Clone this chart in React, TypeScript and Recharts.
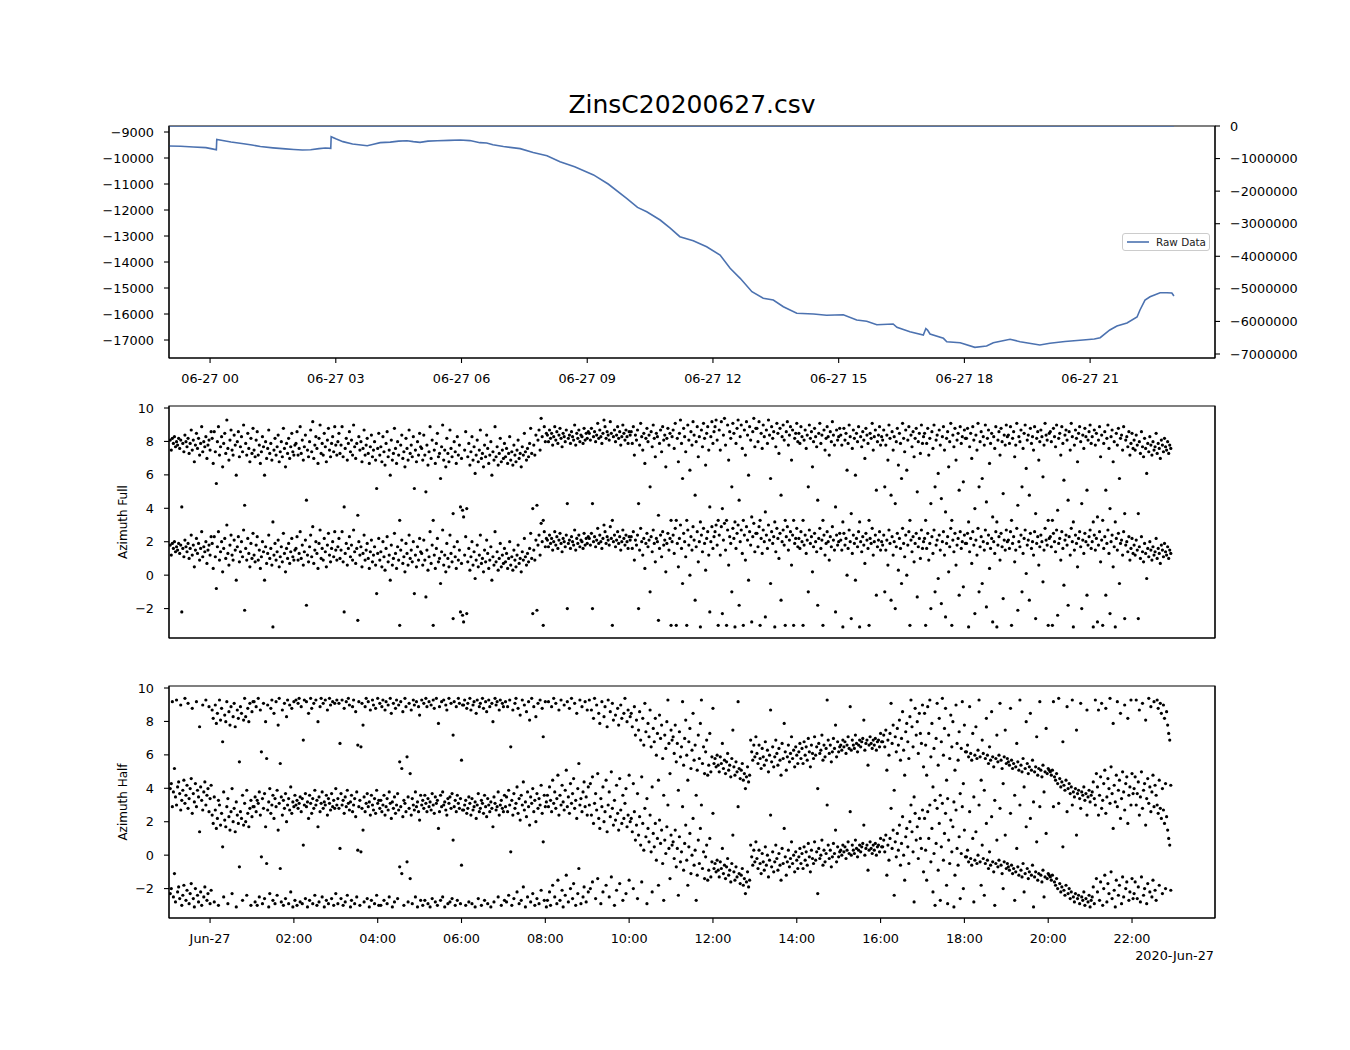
import React from 'react';
import { LineChart, Line, ScatterChart, Scatter, XAxis, YAxis, Legend, ReferenceArea } from 'recharts';

const FONT = '"DejaVu Sans", sans-serif';
const BLUE = '#4C72B0';

// ---------- Top panel: raw data (left axis) and second series (right axis) ----------
const rawHours = [-0.98, -0.7, -0.4, -0.1, 0.05, 0.15, 0.16, 0.3, 0.5, 0.8, 1.0, 1.2, 1.5, 1.8, 2.0, 2.2, 2.4, 2.6, 2.75, 2.88, 2.89, 3.0, 3.17, 3.4, 3.6, 3.75, 3.9, 4.06, 4.3, 4.5, 4.7, 4.85, 5.01, 5.2, 5.42, 5.7, 5.97, 6.2, 6.44, 6.6, 6.75, 7.0, 7.4, 7.71, 8.04, 8.35, 8.7, 9.15, 9.5, 9.94, 10.2, 10.42, 10.74, 10.98, 11.21, 11.53, 11.85, 12.17, 12.41, 12.65, 12.93, 13.2, 13.44, 13.68, 14.0, 14.4, 14.71, 15.11, 15.43, 15.67, 15.91, 16.3, 16.39, 16.7, 17.02, 17.08, 17.12, 17.18, 17.5, 17.58, 17.9, 18.25, 18.53, 18.69, 19.09, 19.33, 19.8, 20.04, 20.4, 20.83, 21.1, 21.24, 21.47, 21.64, 21.88, 22.12, 22.19, 22.31, 22.43, 22.67, 22.83, 22.95, 23.0];
const rawValues = [-9540, -9550, -9575, -9600, -9650, -9680, -9290, -9330, -9385, -9450, -9500, -9560, -9610, -9650, -9670, -9690, -9680, -9640, -9615, -9630, -9180, -9260, -9370, -9460, -9500, -9530, -9470, -9410, -9390, -9350, -9335, -9370, -9400, -9350, -9335, -9320, -9308, -9330, -9410, -9420, -9490, -9560, -9640, -9790, -9910, -10140, -10340, -10650, -11000, -11550, -11900, -12065, -12385, -12700, -13027, -13181, -13412, -13731, -14242, -14627, -15142, -15396, -15462, -15719, -15973, -16000, -16050, -16027, -16231, -16281, -16412, -16385, -16512, -16681, -16808, -16560, -16620, -16770, -16935, -17065, -17104, -17281, -17231, -17104, -16973, -17065, -17190, -17127, -17060, -17000, -16960, -16912, -16615, -16462, -16346, -16115, -15846, -15462, -15335, -15181, -15181, -15192, -15308];
const rightHours = [-0.98, 23.0];
const rightValues = [0, 0];

const topTickHours = [0, 3, 6, 9, 12, 15, 18, 21];
const topTickLabels = ['06-27 00', '06-27 03', '06-27 06', '06-27 09', '06-27 12', '06-27 15', '06-27 18', '06-27 21'];
const leftTicks = [-17000, -16000, -15000, -14000, -13000, -12000, -11000, -10000, -9000];
const rightTicks = [-7000000, -6000000, -5000000, -4000000, -3000000, -2000000, -1000000, 0];

const bottomTickHours = [0, 2, 4, 6, 8, 10, 12, 14, 16, 18, 20, 22];
const bottomTickLabels = ['Jun-27', '02:00', '04:00', '06:00', '08:00', '10:00', '12:00', '14:00', '16:00', '18:00', '20:00', '22:00'];
const azimuthTicks = [-2, 0, 2, 4, 6, 8, 10];
const dateOffsetLabel = '2020-Jun-27';

// ---------- Azimuth samples (radians, -pi..pi); one value every 1.5 minutes ----------
const sampleStartHour = -0.95;
const sampleStepHours = 0.025;

const azimuthFull = [
  1.8, 1.2, 1.9, 1.6, 2.0, 1.4, 1.7, 1.5, 1.9, 1.3, 1.8, -2.2, 1.6, 1.1, 2.1, 1.7, 1.4, 1.9, 1.0, 1.6, 2.4, 1.2, 1.8, 0.5, 1.5, 2.2, 1.3, 1.9, 0.9, 1.6, 2.6, 1.1, 1.7, 1.4, 2.0, 0.7, 1.5, 1.8, 1.2, 2.3,
  1.9, 0.4, 2.3, 1.1, -0.8, 1.7, 2.6, 0.9, 1.4, 2.0, 0.2, 1.6, 2.2, 1.0, 3.0, 1.3, 0.6, 1.8, 2.4, 1.2, 0.9, 2.1, 1.5, -0.3, 1.7, 2.3, 0.8, 1.4, 2.0, 1.1, 2.7, -2.1, 1.6, 0.9, 2.2, 1.3, 0.5, 1.9, 1.0, 2.5,
  1.2, 0.8, 1.8, 2.3, 0.9, 1.5, 0.4, 1.1, 2.0, 1.4, -0.3, 1.7, 0.7, 1.3, 2.4, 1.0, 1.6, 0.6, -3.1, 1.2, 1.9, 0.9, 1.4, 2.1, 0.5, 1.1, 1.7, 0.8, 2.5, 1.3, 0.2, 1.6, 1.0, 1.9, 0.7, 1.4, 2.2, 1.1, 0.9, 1.5,
  1.6, 2.3, 0.9, 1.3, 2.6, 1.0, 1.8, 0.6, 1.4, 2.1, -1.8, 1.2, 0.8, 1.7, 2.4, 1.1, 2.9, 0.7, 1.5, 2.0, 1.3, 0.4, 1.9, 2.7, 1.0, 1.6, 0.9, 2.2, 1.4, 0.5, 1.8, 2.5, 1.2, 0.8, 1.6, 2.0, 1.1, 2.6, 1.5, 0.9,
  1.7, 2.2, 1.0, 1.5, 2.6, 0.8, -2.2, 1.3, 1.9, 0.6, 1.6, 2.3, 1.1, 1.8, 0.9, 2.7, 1.4, 0.7, 1.6, -2.7, 2.0, 1.2, 1.7, 0.5, 1.3, 2.4, 0.9, 1.5, 1.9, 1.0, 0.4, 1.4, 2.1, 0.8, 1.2, 1.7, 0.6, -1.1, 1.3, 2.2,
  0.9, 1.4, 0.5, 2.0, 1.1, 0.3, 1.6, 2.3, 0.8, 1.2, -0.3, 1.8, 0.6, 1.0, 2.5, 1.3, 0.4, 1.7, 0.9, -3.0, 1.5, 2.1, 0.7, 1.1, 0.2, 1.9, 1.3, 0.6, 2.4, 1.0, 1.5, 0.8, 2.0, -1.1, 1.2, 0.5, 1.7, 0.9, 2.2, 1.4,
  1.3, 0.6, 2.1, 0.9, -1.3, 1.5, 0.3, 1.1, 2.6, 0.7, 1.8, -3.0, 1.2, 0.4, 1.6, 2.2, 0.8, 1.0, -0.5, 1.4, 2.7, 0.6, 1.2, 0.2, 1.9, 1.0, 0.5, 2.4, 1.3, 0.8, -2.6, 1.7, 1.1, 0.4, 2.0, 0.9, 1.5, -2.2, 0.7, -2.4,
  -2.8, 1.2, 2.3, -2.3, 0.8, 1.6, 0.3, 1.1, 2.0, 0.6, 1.4, -0.2, 0.9, 1.8, 0.5, 1.2, 2.4, 0.7, 1.0, 0.2, 1.5, 0.8, 2.1, 1.3, 0.4, 0.9, 1.7, -0.3, 1.1, 0.6, 2.6, 0.8, 1.4, 0.3, 1.0, 1.9, 0.5, 1.2, 0.7, 1.6,
  0.8, 1.3, 0.4, 1.0, 2.0, 0.6, 1.1, 0.3, 1.5, 0.9, 0.5, 1.2, 1.8, 0.7, 1.0, 0.2, 1.4, 0.9, 2.2, 1.1, 0.6, 1.3, 0.8, 1.6, 2.5, 1.0, -2.3, 1.5, 0.9, 2.1, -2.1, 1.8, 2.4, 1.2, 3.1, 2.0, -3.0, 2.6, 1.7, 2.2,
  2.1, 1.7, 2.4, 1.9, 2.2, 1.5, 2.0, 2.6, 1.8, 2.3, 1.6, 2.1, 2.5, 1.9, 1.4, 2.2, 2.0, 1.7, 2.4, -2.0, 1.9, 2.1, 1.6, 2.3, 2.0, 1.8, 2.7, 1.5, 2.2, 1.9, 2.4, 1.7, 2.1, 2.0, 1.6, 2.5, 1.8, 2.2, 1.9, 2.3,
  2.2, 1.8, 2.5, -2.0, 2.0, 2.3, 1.7, 2.1, 2.8, 1.9, 2.4, 2.0, 1.6, 2.2, 3.0, 2.6, 1.9, 2.3, 2.1, 1.8, 2.9, 2.2, -3.0, 2.0, 2.4, 1.7, 2.1, 2.6, 1.9, 2.3, 1.5, 2.0, 2.7, 2.2, 1.8, 2.4, 2.0, 1.6, 2.3, 2.1,
  2.3, 1.6, 2.6, 0.9, 2.1, 1.8, 2.4, -2.0, 1.5, 2.8, 2.0, 1.2, 2.2, 0.4, 1.9, 2.5, 1.7, 2.1, -1.0, 2.3, 1.4, 2.7, 1.9, 0.8, 2.2, 2.0, -2.7, 1.6, 2.4, 1.1, 2.6, 1.8, 2.1, 0.2, 1.9, 2.5, 1.5, 2.2, -3.0, 2.0,
  2.4, 1.3, 2.8, -3.0, 1.9, 0.5, 2.2, 3.0, 1.6, -0.5, 2.5, 2.0, 1.1, -3.0, 2.7, 1.8, 0.0, 2.3, 1.5, 2.9, 2.1, -1.5, 1.7, 2.6, 0.8, 2.0, -3.1, 2.4, 1.4, 2.8, 1.9, 0.3, 2.2, 2.6, 1.2, -2.2, 2.0, 2.9, 1.6, 2.3,
  2.6, 3.0, 1.8, -3.0, 2.4, 1.2, 2.9, -2.3, 2.1, 3.1, 1.5, -3.0, 2.7, 0.6, 2.3, 1.9, -1.0, 2.8, 2.2, -3.1, 1.6, 2.5, 3.0, -1.8, 2.0, 2.7, 1.3, -3.0, 2.4, 0.9, 2.9, 2.1, -0.3, 2.6, 1.8, -2.8, 2.3, 3.1, 1.4, 2.5,
  2.5, 1.7, 2.9, -3.0, 2.2, 1.3, 2.7, 2.0, -2.5, 2.4, 1.6, 3.0, 2.1, -0.5, 2.6, 1.9, 2.3, -3.1, 1.4, 2.8, 2.2, 1.0, 2.5, -1.5, 2.0, 2.7, 1.8, -3.0, 2.3, 2.9, 1.5, 2.1, 2.6, 0.6, 2.4, -3.0, 1.9, 2.2, 2.8, 1.7,
  2.2, 1.6, 2.6, 2.0, -3.0, 1.8, 2.4, 1.3, 2.1, -1.0, 2.7, 1.9, 2.3, 0.2, 1.7, 2.5, 2.0, 1.4, -1.8, 2.2, 2.8, 1.6, 2.1, -3.0, 2.4, 1.2, 1.9, 2.6, 2.0, 0.9, 2.3, 1.7, 2.9, 2.1, 1.5, -2.2, 2.4, 1.8, 2.0, 2.5,
  2.1, 1.5, -3.1, 2.5, 1.8, 2.2, 0.0, 1.6, 2.7, 2.0, -2.6, 1.3, 2.4, 1.9, -0.3, 2.2, 1.7, 2.6, -3.1, 2.0, 1.4, 2.3, 1.8, 0.7, 2.5, 2.1, 1.6, -3.0, 2.2, 1.9, 2.8, 1.2, 2.0, 2.4, -1.2, 1.7, 2.1, 2.6, 1.5, 2.0,
  1.8, 2.4, -1.0, 1.5, 2.1, 0.6, 2.7, 1.9, -1.5, 2.3, 1.2, 2.0, -2.0, 1.7, 2.5, 0.3, 2.2, 1.6, -0.5, 2.8, 1.9, 1.1, 2.4, 0.0, 1.8, 2.6, -3.0, 2.1, 1.4, 2.3, 0.8, 1.9, 2.5, -1.3, 1.7, 2.2, 1.0, 2.7, 1.6, 2.0,
  2.2, -3.0, 1.6, 2.5, 0.9, 1.9, -2.0, 2.3, 1.3, 2.7, -1.0, 1.8, 2.1, -0.2, 2.4, 1.5, -1.7, 2.0, 2.6, 1.2, -2.5, 1.9, 2.3, 0.2, 1.7, 2.8, -3.0, 2.1, 1.4, 2.5, 0.6, 1.8, 2.2, -1.2, 2.6, 1.6, 2.0, -0.7, 2.4, 1.9,
  1.9, 2.5, -3.1, 1.4, 2.2, 0.7, 2.6, 1.8, -2.3, 2.1, 1.2, 2.8, -1.0, 1.7, 2.3, -0.5, 2.0, 1.5, 2.7, -1.9, 1.9, 2.4, 0.4, 1.6, 2.2, -2.8, 2.0, 1.3, 2.6, -3.1, 1.8, 2.3, 0.9, 2.5, 1.7, -1.4, 2.1, 1.5, 2.7, 2.0,
  2.1, 1.6, 2.6, -3.0, 1.9, 2.3, 0.8, 1.5, 2.8, -2.1, 2.0, 1.7, 2.4, -1.0, 1.3, 2.2, 2.7, 0.1, 1.8, 2.1, -1.5, 2.5, 1.6, 2.0, 1.2, 2.6, -2.6, 1.9, 2.3, 0.6, 1.7, 2.4, 2.0, -0.4, 1.5, 2.8, 2.1, 1.8, -3.0, 2.2,
  2.3, 1.7, -3.0, 2.5, 2.0, 1.4, 2.7, -2.4, 1.9, 2.2, 0.9, 2.6, 1.6, -0.6, 2.1, 2.4, 1.8, -1.8, 2.3, 1.2, 2.8, 2.0, -3.1, 1.5, 2.4, 1.9, 0.5, 2.2, 2.6, 1.7, -2.0, 2.1, 1.3, 2.5, 2.0, -1.2, 1.8, 2.3, 2.7, 1.6,
  2.0, -3.1, 2.4, 1.5, 2.2, -2.8, 1.8, 2.6, 0.8, 2.1, -3.0, 1.6, 2.3, -1.2, 1.9, 2.7, 1.3, -2.3, 2.0, 2.4, 0.5, 1.7, -3.1, 2.2, 1.5, 2.5, -0.5, 1.9, 2.1, 1.2, 2.6, -2.6, 1.8, 2.0, 1.4, 2.3, 0.9, 1.6, 2.2, 1.3,
  1.8, 1.2, 2.1, 1.5, -2.6, 1.7, 1.0, 2.3, 1.4, 0.8, 1.9, 1.3, -0.2, 1.6, 1.1, 2.0, 1.5, 0.9, 1.7, 1.2, 1.4, 2.2, 1.0, 1.6, 1.3, 0.7, 1.8, 1.5, 1.1, 1.9, 1.4, 1.2, 1.7, 1.0, 1.5, 1.3,
];

const azimuthHalf = [
  -2.3, -2.0, 2.9, -2.5, -1.1, -2.8, 3.0, -2.2, -1.9, -2.6, 2.7, -3.0, -2.4, -1.8, 3.1, -2.7, -2.1, 2.8, -2.9, -2.3, -1.7, 2.5, -2.6, -3.1, -2.0, 2.9, -2.4, -2.8, 1.4, -2.2, -3.0, 2.7, -2.5, -1.9, 3.0, -2.7, -2.3, 2.6, -2.9, -2.1,
  2.4, 1.9, -2.8, 2.7, 1.6, 2.2, -3.0, 3.0, 1.8, 2.5, 0.5, -2.5, 2.1, 1.7, 2.9, -2.9, 2.3, 1.5, 2.6, -2.3, 2.0, 2.8, 1.4, -3.1, 2.4, 1.9, -0.7, 2.6, 2.2, -2.7, 1.8, 3.1, 2.0, -2.4, 2.5, 1.7, 2.8, -3.0, 2.3, 2.9,
  2.9, -2.8, 2.6, -3.0, 3.1, -2.5, 2.4, -0.1, -2.9, 2.8, -2.6, 1.7, -0.5, 2.7, -3.1, -2.3, 2.5, 3.0, -2.7, 2.2, -2.9, 2.9, -2.4, 1.5, 3.1, -0.8, -2.8, 2.4, -3.0, 2.8, -2.6, 2.0, 3.0, -2.9, 2.7, -2.2, 2.5, -3.1, 2.9, -2.7,
  3.0, -3.0, 2.8, 3.1, -2.8, 2.6, -2.9, 0.6, 3.0, -2.6, 2.9, -3.1, 2.2, -2.7, 3.1, 2.5, -2.9, 2.8, -2.4, 3.0, -3.0, 1.7, -2.8, 2.6, 3.1, -2.5, 2.8, -3.1, 3.0, -2.7, 2.4, -2.9, 3.1, 2.7, -2.6, 2.9, -3.0, 2.8, -2.3, 3.0,
  -2.9, 2.8, 0.4, -2.6, 3.0, -3.0, 2.5, -2.8, 2.9, -2.4, 3.1, 2.7, -3.1, -2.7, 2.6, 3.0, -2.9, 2.3, -2.5, 0.3, 2.9, -3.0, 0.2, 2.8, 1.5, -2.8, 2.6, 3.1, -2.6, 2.9, -3.1, 2.4, -2.7, 3.0, 2.7, -2.9, 2.5, -2.4, 3.1, -3.0,
  2.8, -3.0, 2.6, 3.0, -2.7, 2.4, 2.9, -2.9, 2.7, -2.5, 3.1, 2.2, -3.1, 2.8, -2.8, 2.5, 3.0, -2.6, 2.7, -0.7, 2.9, -1.1, 2.3, -3.0, 3.1, 2.6, -0.4, -2.8, 2.8, -1.4, 2.4, -2.9, 3.0, 2.7, -2.5, 2.9, -3.1, 2.6, 2.1, -2.7,
  3.0, -3.0, 2.8, -2.7, 3.1, 2.6, -2.9, 2.9, -3.1, 2.7, -2.6, 3.0, 2.5, -2.8, 3.1, -3.0, 1.6, 2.6, -2.7, 2.9, -2.5, 3.0, -3.1, 2.7, 2.4, -2.9, 3.1, -2.8, 2.8, -2.6, 0.9, 2.9, -3.0, 2.6, -2.7, 3.1, 2.8, -2.9, -0.6, 2.7,
  2.7, 3.0, -3.0, 2.5, 2.8, -2.8, 3.1, 2.4, -2.9, 2.7, 2.9, -3.1, 2.2, 3.0, -2.6, 2.6, 2.8, -3.0, 3.1, 2.5, -2.7, 2.9, 2.3, -2.9, 3.0, 2.6, -3.1, 2.8, 1.7, -2.8, 3.1, 2.7, 2.9, -2.5, 2.4, 3.0, -3.0, 2.8, 2.6, -2.7,
  2.9, -2.8, 2.6, -2.4, 3.0, 0.2, -3.0, 2.4, -2.6, 2.8, 3.1, -2.2, 2.5, -2.9, 2.1, -2.7, 3.0, -1.9, 2.7, -3.1, 2.3, -2.5, 2.9, 1.8, -2.8, 3.1, -2.3, 2.6, -3.0, 2.0, -2.6, 2.8, -2.9, 3.0, -2.1, 2.5, 0.8, -2.7, 2.9, -3.1,
  -2.7, 2.9, -2.2, -3.0, 2.6, -1.8, 3.1, -2.5, 2.8, -2.9, -1.5, 2.4, -2.7, 3.0, -2.1, -3.1, 2.7, -2.4, -1.2, 2.9, -2.8, 2.5, -2.0, 3.1, -2.6, -1.7, 2.8, -3.0, 2.2, -2.3, -0.8, 3.0, -2.9, 2.6, -2.5, -1.9, 2.9, -2.8, 2.4, -2.2,
  3.0, -2.0, 2.4, -1.6, 1.9, 3.1, -2.6, 2.7, -1.4, 2.2, 1.6, -2.9, 2.9, -2.2, 2.0, 2.6, -1.8, 1.4, 3.0, -2.5, 2.3, -1.3, 2.8, 1.8, -3.0, 2.1, -2.1, 2.5, 1.5, -1.7, 2.7, 1.9, -2.7, 2.2, 3.1, -2.3, 1.7, 2.4, -1.5, 2.0,
  2.2, 1.4, -2.0, 2.6, 0.9, 1.8, -2.6, 1.2, 2.3, 0.6, -1.6, 1.9, 0.3, 2.8, 1.1, -2.9, 1.6, 0.8, 2.4, 0.2, -2.2, 1.3, 0.5, 1.9, -0.3, 1.0, -1.8, 2.1, 0.7, 1.5, -0.5, -2.7, 0.9, 0.1, 1.7, 3.0, 0.4, -1.4, 1.2, 0.6,
  0.8, -0.2, 1.5, -0.7, 0.4, -2.4, 1.1, -0.4, 0.2, 2.9, -0.9, 0.7, 1.8, -0.3, -1.8, 0.5, 1.3, -1.1, 0.0, 2.2, -0.6, 0.3, -2.7, -1.2, 0.9, -0.5, 1.6, 3.0, -0.8, 0.2, -1.4, -0.1, 0.6, -1.5, -0.9, 1.0, -1.3, -0.4, 2.5, -0.8,
  -0.5, -1.0, -0.3, -0.9, -1.3, -0.4, -0.8, 0.4, -1.1, -0.6, -1.4, -0.7, -0.2, -1.2, -0.9, -1.6, -0.5, 1.2, -1.0, -1.5, -0.7, -1.3, 2.9, -1.1, -1.7, -1.2, -0.8, -1.8, -1.4, -2.3, -1.6, -1.0, -1.9, -1.5, 0.6, -0.1, -0.6, 0.3, -0.4, 0.8,
  -0.2, -0.8, 0.3, -0.5, -1.1, 0.1, -0.4, -0.9, 0.5, -0.6, 0.0, -1.3, -0.3, 2.4, -0.7, 0.2, -1.0, -0.4, 0.6, -0.2, -0.9, 0.1, -0.6, -1.5, 0.4, -0.5, 1.6, -0.1, -1.2, -0.4, 0.3, -0.7, -0.2, 0.8, -0.5, 0.0, -1.0, 0.2, -0.3, -0.8,
  -0.1, 0.4, -0.5, 0.1, -0.8, 0.5, -0.3, 0.2, -0.6, 0.7, -0.1, -1.0, 0.3, -0.2, -0.5, 0.8, -0.3, 0.2, -2.3, 0.4, -0.2, 0.0, 0.9, -0.6, 0.3, -0.4, 0.1, 3.0, 0.6, -0.2, 0.3, -0.7, -0.1, 0.7, 0.1, 1.5, -0.4, 0.5, -0.1, 0.2,
  0.3, 0.0, 0.6, 0.2, 0.5, -0.2, 0.3, 0.8, 0.1, 2.6, 0.0, 0.6, 0.3, 0.1, 0.9, 0.4, -0.1, 0.3, 0.6, 0.2, 0.5, 0.7, 1.8, 0.0, 0.4, 0.6, -0.9, 0.3, 0.8, 0.4, 0.1, 0.6, 0.3, 0.7, 0.0, 0.5, 0.6, 0.2, 1.0, 0.5,
  0.5, 0.9, 0.2, 1.2, -1.2, 0.6, -0.3, 1.0, 2.8, 0.4, 1.5, -2.4, 0.8, -0.1, 1.3, 0.3, 1.8, -0.6, 0.7, 2.3, 0.0, -1.5, 1.1, 1.6, 0.5, -0.5, 2.0, 3.0, 1.4, 0.2, -2.8, 2.5, 0.9, 1.7, -0.2, 2.2, 1.0, 0.4, 2.7, -1.0,
  2.2, 0.3, -1.5, 2.6, 1.0, 3.0, -0.4, 1.6, -2.2, 0.1, -3.0, 0.7, 2.8, -0.9, 1.9, -2.7, 0.5, 3.1, -0.3, 1.3, 2.5, -1.8, -2.9, 0.9, -0.5, 2.1, 0.2, 1.7, -3.1, -1.2, 2.7, 0.4, -0.6, 1.1, -2.6, 0.1, 2.9, -2.0, 1.5, -0.1,
  -0.1, 0.3, -0.4, 2.6, -0.2, -0.6, 1.0, -2.8, -0.3, 1.4, -0.5, 0.0, 3.0, -0.4, -1.8, 0.6, -0.2, -2.4, -0.5, 1.9, -0.3, -0.8, 0.2, -0.6, 2.3, -0.4, -1.0, -3.0, -0.5, 0.9, -0.7, -0.3, 2.8, -0.6, -1.1, -2.0, -0.4, 1.2, -0.8, -0.5,
  -0.7, -0.9, 2.5, -0.6, -1.1, -0.8, -2.7, -1.0, 0.4, -0.7, -1.2, 3.0, -0.9, -1.3, -0.5, -2.2, -1.1, 1.7, -0.8, -1.4, -1.0, 2.2, -1.2, -0.6, -3.1, -1.3, -1.0, 0.8, -1.5, -1.1, 2.9, -1.2, -1.6, -0.9, -2.5, -1.3, 1.3, -1.4, -1.1, -1.2,
  -1.3, -1.5, -1.2, 2.9, -1.6, -1.8, -1.4, -2.0, 3.1, -1.7, -2.2, -1.9, 0.5, -2.1, -2.4, -1.8, 2.6, -2.3, -2.0, -2.6, -2.2, 3.0, -2.5, -2.8, -2.3, 1.2, -2.6, -2.4, -2.9, 2.8, -2.5, -2.7, -2.2, -3.0, -2.6, 2.4, -2.8, -2.4, -3.1, -2.7,
  -2.5, -1.9, -2.9, 3.0, -1.4, -2.2, 2.4, -2.7, -1.6, 2.8, -3.0, -2.0, -1.2, 2.5, -2.8, -1.7, -2.3, 3.1, -1.0, -2.6, 1.6, -2.1, -3.1, -1.5, 2.9, -2.4, -1.8, 2.2, -2.9, -1.3, -2.5, 2.7, -2.0, -1.6, 1.9, -2.7, -2.2, 3.0, -1.4, -2.6,
  -2.3, -1.6, 3.0, -2.6, -1.9, 2.4, -2.8, -1.3, 2.8, -2.4, -2.0, 1.8, -2.9, -1.7, 3.1, -2.2, 2.6, -2.5, -1.5, 2.9, -2.1, -2.7, 3.0, 2.5, -1.8, 2.8, 2.2, -2.3, 2.7, 1.9, -2.0, 2.3, 1.5, 1.0, 0.6, -2.1,
];

// ---------- derived plotting tables ----------
const rawData = rawHours.map((h, i) => ({ x: h, y: rawValues[i] }));
const rightData = rightHours.map((h, i) => ({ x: h, y: rightValues[i] }));

// Each azimuth sample is shown at its angle and at its 2*pi alias, as in the original figure.
const toPoints = (vals: number[]) => {
  const pts: { x: number; y: number }[] = [];
  vals.forEach((v, i) => {
    const x = sampleStartHour + i * sampleStepHours;
    pts.push({ x, y: v });
    pts.push({ x, y: v + 2 * Math.PI });
  });
  return pts;
};
const fullPoints = toPoints(azimuthFull);
const halfPoints = toPoints(azimuthHalf);

const X_DOMAIN: [number, number] = [-0.98, 23.98];
const LEFT_DOMAIN: [number, number] = [-17692, -8769];
const RIGHT_DOMAIN: [number, number] = [-7122807, 0];
const AZ_DOMAIN: [number, number] = [-3.76, 10.12];

const fmtNum = (v: number) => (v < 0 ? '\u2212' + Math.abs(v) : String(v));
const tickStyle = { fill: '#000', fontSize: 12.8, fontFamily: FONT };
const axisLine = { stroke: '#000', strokeWidth: 1.1 };
const tickLine = { stroke: '#000', strokeWidth: 1.1 };

const Dot = (p: any) => <circle cx={p.cx} cy={p.cy} r={1.6} fill="#000" />;

const yLabel = (text: string) => (props: any) => {
  const vb = props.viewBox || {};
  const x = vb.x + vb.width - 42;
  const y = vb.y + vb.height / 2;
  return (
    <text x={x} y={y} transform={`rotate(-90 ${x} ${y})`} textAnchor="middle" fontSize={12} fontFamily={FONT} fill="#000">
      {text}
    </text>
  );
};

const offsetLabel = (props: any) => {
  const vb = props.viewBox || {};
  return (
    <text x={vb.x + vb.width - 1} y={vb.y + 42} textAnchor="end" fontSize={12.8} fontFamily={FONT} fill="#000">
      {dateOffsetLabel}
    </text>
  );
};

const LegendBox = (props: any) => {
  const items = (props.payload || []).filter((e: any) => e.type !== 'none');
  return (
    <div
      style={{
        border: '1px solid #cccccc',
        borderRadius: 3,
        background: 'rgba(255,255,255,0.85)',
        width: 88,
        height: 18,
        boxSizing: 'border-box',
        display: 'flex',
        alignItems: 'center',
        paddingLeft: 4,
      }}
    >
      {items.map((e: any) => (
        <div key={e.value} style={{ display: 'flex', alignItems: 'center' }}>
          <svg width={22} height={8} style={{ display: 'block' }}>
            <line x1={0} y1={4} x2={22} y2={4} stroke={BLUE} strokeWidth={1.6} />
          </svg>
          <span style={{ marginLeft: 7, fontSize: 10.4, fontFamily: FONT, color: '#222', lineHeight: '12px', whiteSpace: 'nowrap' }}>
            {e.value}
          </span>
        </div>
      ))}
    </div>
  );
};

export default function App() {
  return (
    <div style={{ position: 'absolute', left: 0, top: 0, width: 1350, height: 1050, background: '#fff', overflow: 'hidden' }}>
      <svg width={1350} height={130} style={{ position: 'absolute', left: 0, top: 0 }}>
        <text x={692} y={113} textAnchor="middle" fontSize={25} fontFamily={FONT} fill="#000">
          ZinsC20200627.csv
        </text>
      </svg>

      {/* Top panel */}
      <div style={{ position: 'absolute', left: 0, top: 0 }}>
        <LineChart width={1350} height={400} margin={{ top: 126, right: 0, bottom: 0, left: 0 }}>
          <XAxis
            xAxisId="b"
            type="number"
            dataKey="x"
            domain={X_DOMAIN}
            allowDataOverflow
            ticks={topTickHours}
            tickFormatter={(h: number) => topTickLabels[topTickHours.indexOf(h)]}
            height={42}
            tickSize={5}
            tickMargin={11}
            tick={tickStyle}
            axisLine={axisLine}
            tickLine={tickLine}
          />
          <YAxis
            yAxisId="l"
            type="number"
            domain={LEFT_DOMAIN}
            allowDataOverflow
            ticks={leftTicks}
            tickFormatter={fmtNum}
            width={169}
            tickSize={5}
            tickMargin={10}
            tick={tickStyle}
            axisLine={axisLine}
            tickLine={tickLine}
          />
          <YAxis
            yAxisId="r"
            orientation="right"
            type="number"
            domain={RIGHT_DOMAIN}
            allowDataOverflow
            ticks={rightTicks}
            tickFormatter={fmtNum}
            width={135}
            tickSize={5}
            tickMargin={10}
            tick={{ ...tickStyle, textAnchor: 'start' }}
            axisLine={axisLine}
            tickLine={tickLine}
          />
          <Line xAxisId="b" yAxisId="l" data={rawData} dataKey="y" name="Raw Data" stroke={BLUE} strokeWidth={1.6} dot={false} isAnimationActive={false} />
          <Line xAxisId="b" yAxisId="r" data={rightData} dataKey="y" name="right" legendType="none" stroke={BLUE} strokeWidth={1.6} dot={false} isAnimationActive={false} />
          <ReferenceArea xAxisId="b" yAxisId="l" x1={X_DOMAIN[0]} x2={X_DOMAIN[1]} y1={LEFT_DOMAIN[0]} y2={LEFT_DOMAIN[1]} fill="none" fillOpacity={0} stroke="#000" strokeWidth={1.1} ifOverflow="visible" />
          <Legend layout="horizontal" align="center" verticalAlign="middle" content={LegendBox} wrapperStyle={{ left: 1122, top: 233, width: 88, height: 18 }} />
        </LineChart>
      </div>

      {/* Middle panel */}
      <div style={{ position: 'absolute', left: 0, top: 380 }}>
        <ScatterChart width={1350} height={300} margin={{ top: 26, right: 0, bottom: 0, left: 0 }}>
          <XAxis xAxisId="b" type="number" dataKey="x" domain={X_DOMAIN} allowDataOverflow ticks={bottomTickHours} height={42} tickSize={5} tick={false} axisLine={axisLine} tickLine={tickLine} />
          <YAxis
            yAxisId="l"
            type="number"
            dataKey="y"
            domain={AZ_DOMAIN}
            allowDataOverflow
            ticks={azimuthTicks}
            tickFormatter={fmtNum}
            width={169}
            tickSize={5}
            tickMargin={10}
            tick={tickStyle}
            axisLine={axisLine}
            tickLine={tickLine}
            label={{ value: 'Azimuth Full', content: yLabel('Azimuth Full') }}
          />
          <YAxis yAxisId="r" orientation="right" type="number" dataKey="y" domain={AZ_DOMAIN} allowDataOverflow width={135} tick={false} tickLine={false} axisLine={axisLine} />
          <ReferenceArea xAxisId="b" yAxisId="l" x1={X_DOMAIN[0]} x2={X_DOMAIN[1]} y1={AZ_DOMAIN[0]} y2={AZ_DOMAIN[1]} fill="none" fillOpacity={0} stroke="#000" strokeWidth={1.1} ifOverflow="visible" />
          <Scatter xAxisId="b" yAxisId="l" data={fullPoints} shape={Dot} isAnimationActive={false} />
        </ScatterChart>
      </div>

      {/* Bottom panel */}
      <div style={{ position: 'absolute', left: 0, top: 660 }}>
        <ScatterChart width={1350} height={320} margin={{ top: 26, right: 0, bottom: 0, left: 0 }}>
          <XAxis
            xAxisId="b"
            type="number"
            dataKey="x"
            domain={X_DOMAIN}
            allowDataOverflow
            ticks={bottomTickHours}
            tickFormatter={(h: number) => bottomTickLabels[bottomTickHours.indexOf(h)]}
            height={62}
            tickSize={5}
            tickMargin={11}
            tick={tickStyle}
            axisLine={axisLine}
            tickLine={tickLine}
            label={{ value: dateOffsetLabel, content: offsetLabel }}
          />
          <YAxis
            yAxisId="l"
            type="number"
            dataKey="y"
            domain={AZ_DOMAIN}
            allowDataOverflow
            ticks={azimuthTicks}
            tickFormatter={fmtNum}
            width={169}
            tickSize={5}
            tickMargin={10}
            tick={tickStyle}
            axisLine={axisLine}
            tickLine={tickLine}
            label={{ value: 'Azimuth Half', content: yLabel('Azimuth Half') }}
          />
          <YAxis yAxisId="r" orientation="right" type="number" dataKey="y" domain={AZ_DOMAIN} allowDataOverflow width={135} tick={false} tickLine={false} axisLine={axisLine} />
          <ReferenceArea xAxisId="b" yAxisId="l" x1={X_DOMAIN[0]} x2={X_DOMAIN[1]} y1={AZ_DOMAIN[0]} y2={AZ_DOMAIN[1]} fill="none" fillOpacity={0} stroke="#000" strokeWidth={1.1} ifOverflow="visible" />
          <Scatter xAxisId="b" yAxisId="l" data={halfPoints} shape={Dot} isAnimationActive={false} />
        </ScatterChart>
      </div>
    </div>
  );
}
